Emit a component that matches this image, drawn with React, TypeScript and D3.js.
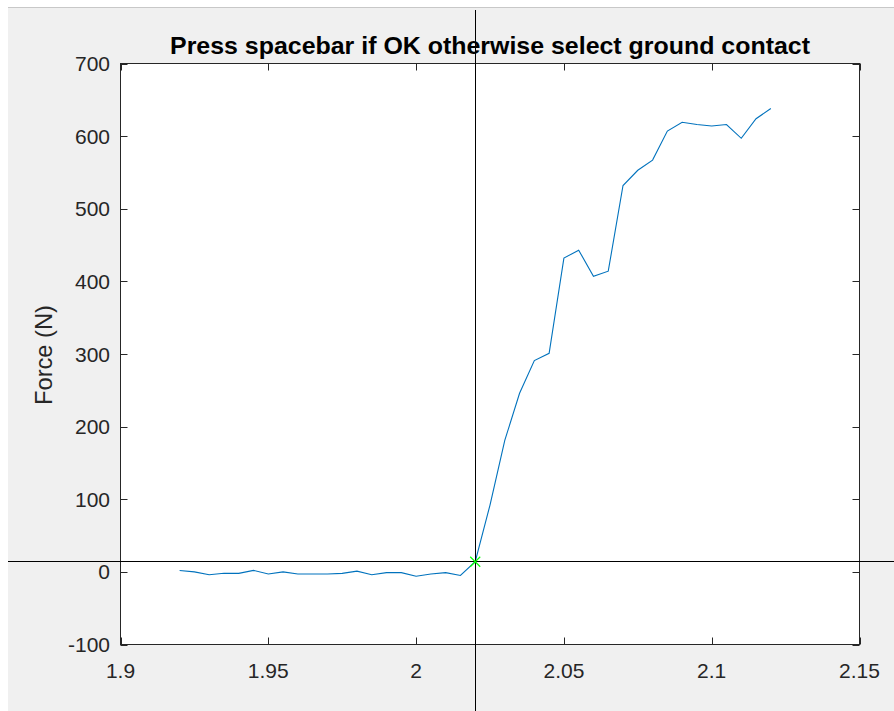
import React from "react";
import * as d3 from "d3";

const times = [
  1.92, 1.925, 1.93, 1.935, 1.94, 1.945, 1.95, 1.955, 1.96, 1.965, 1.97,
  1.975, 1.98, 1.985, 1.99, 1.995, 2.0, 2.005, 2.01, 2.015, 2.02, 2.025,
  2.03, 2.035, 2.04, 2.045, 2.05, 2.055, 2.06, 2.065, 2.07, 2.075, 2.08,
  2.085, 2.09, 2.095, 2.1, 2.105, 2.11, 2.115, 2.12,
];
const forces = [
  2, 0, -4, -2, -2, 2, -3, 0, -3, -3, -3, -2, 1, -4, -1, -1, -6, -3, -1, -5,
  14, 92, 181, 246, 291, 301, 432, 443, 407, 414, 532, 553, 567, 607, 619,
  616, 614, 616, 597, 624, 638,
];
const xTicks = [1.9, 1.95, 2.0, 2.05, 2.1, 2.15];
const xTickLabels = ["1.9", "1.95", "2", "2.05", "2.1", "2.15"];
const yTicks = [-100, 0, 100, 200, 300, 400, 500, 600, 700];
const yTickLabels = ["-100", "0", "100", "200", "300", "400", "500", "600", "700"];
const contactPoint = { t: 2.02, f: 14 };
const titleText = "Press spacebar if OK otherwise select ground contact";
const yLabelText = "Force (N)";

const W = 894;
const H = 711;
const L = 120.5, R = 859.5, T = 63.5, B = 644.5;
const FONT = "'Liberation Sans', Arial, Helvetica, sans-serif";
const AX = "#262626";

export default function App() {
  const x = d3.scaleLinear().domain([1.9, 2.15]).range([L, R]);
  const y = d3.scaleLinear().domain([-100, 700]).range([B, T]);
  const pts: [number, number][] = times.map((t, i) => [t, forces[i]]);
  const line = d3
    .line<[number, number]>()
    .x((d) => x(d[0]))
    .y((d) => y(d[1]));
  const cx = Math.round(x(contactPoint.t)) + 0.5;
  const cy = Math.round(y(contactPoint.f)) - 0.5;
  const tl = 7;
  const m = 5;
  return (
    <svg
      width={W}
      height={H}
      style={{ position: "absolute", left: 0, top: 0, display: "block" }}
    >
      <rect x={0} y={0} width={W} height={H} fill="#ffffff" />
      <rect x={8} y={8} width={W - 8} height={H - 8} fill="#f0f0f0" />
      <line x1={8} x2={W} y1={7.5} y2={7.5} stroke="#c8c8c8" strokeWidth={1} />
      <rect x={L} y={T} width={R - L} height={B - T} fill="#ffffff" />
      {xTicks.map((t, i) => (
        <g key={"xt" + i}>
          <line x1={Math.round(x(t)) + 0.5} x2={Math.round(x(t)) + 0.5} y1={B} y2={B - tl} stroke={AX} />
          <line x1={Math.round(x(t)) + 0.5} x2={Math.round(x(t)) + 0.5} y1={T} y2={T + tl} stroke={AX} />
          <text
            x={x(t)}
            y={678}
            textAnchor="middle"
            fontFamily={FONT}
            fontSize={21}
            fill={AX}
          >
            {xTickLabels[i]}
          </text>
        </g>
      ))}
      {yTicks.map((t, i) => (
        <g key={"yt" + i}>
          <line y1={Math.round(y(t)) + 0.5} y2={Math.round(y(t)) + 0.5} x1={L} x2={L + tl} stroke={AX} />
          <line y1={Math.round(y(t)) + 0.5} y2={Math.round(y(t)) + 0.5} x1={R} x2={R - tl} stroke={AX} />
          <text
            x={110}
            y={y(t)}
            dy="0.36em"
            textAnchor="end"
            fontFamily={FONT}
            fontSize={21}
            fill={AX}
          >
            {yTickLabels[i]}
          </text>
        </g>
      ))}
      <rect x={L} y={T} width={R - L} height={B - T} fill="none" stroke={AX} strokeWidth={1} />
      <path d={line(pts) || ""} fill="none" stroke="#0072BD" strokeWidth={1.1} />
      <line x1={cx} x2={cx} y1={10} y2={H} stroke="#000" strokeWidth={1} />
      <line x1={8} x2={W} y1={cy} y2={cy} stroke="#000" strokeWidth={1} />
      <g stroke="#00ff00" strokeWidth={1.2}>
        <line x1={x(contactPoint.t) - m} x2={x(contactPoint.t) + m} y1={y(contactPoint.f) - m} y2={y(contactPoint.f) + m} />
        <line x1={x(contactPoint.t) - m} x2={x(contactPoint.t) + m} y1={y(contactPoint.f) + m} y2={y(contactPoint.f) - m} />
      </g>
      <text
        x={(L + R) / 2}
        y={54}
        textAnchor="middle"
        fontFamily={FONT}
        fontSize={24}
        fontWeight="bold"
        fill="#000"
        textLength={640}
        lengthAdjust="spacingAndGlyphs"
      >
        {titleText}
      </text>
      <text
        transform={`translate(52, ${(T + B) / 2 + 1}) rotate(-90)`}
        textAnchor="middle"
        fontFamily={FONT}
        fontSize={24}
        fill={AX}
        textLength={100}
        lengthAdjust="spacingAndGlyphs"
      >
        {yLabelText}
      </text>
    </svg>
  );
}
